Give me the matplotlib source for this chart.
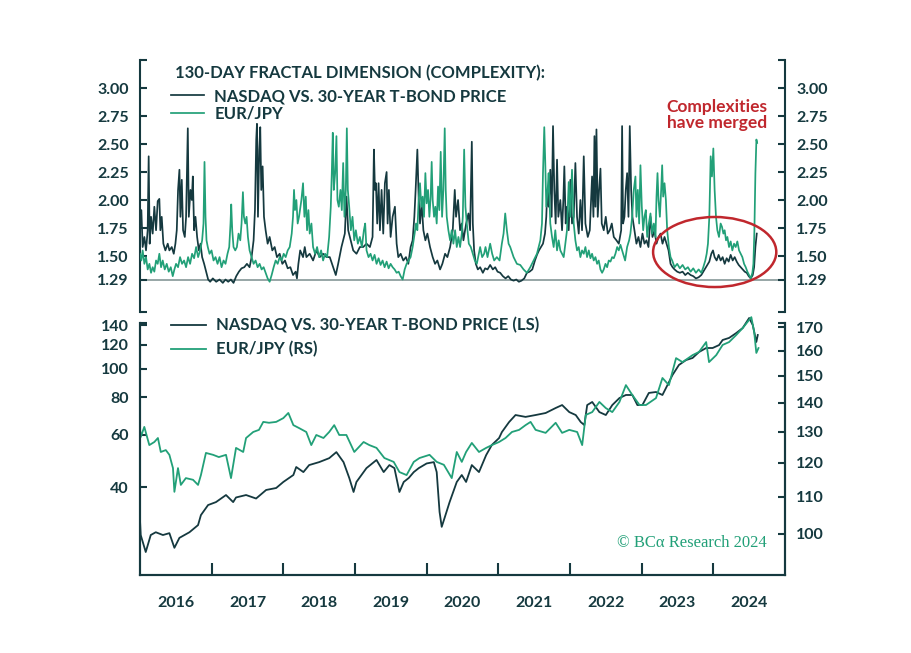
import numpy as np
import matplotlib.pyplot as plt
from matplotlib.patches import Ellipse
from matplotlib.ticker import FixedLocator, NullLocator

DARK = '#15393f'
GREEN = '#22a078'
RED = '#c0272d'
GREY = '#8f9f9f'

plt.rcParams['font.family'] = ['Lato', 'DejaVu Sans']

# ---- top panel: 130-day fractal dimension (decimal years, value)
cx_nq_t = [2016.000, 2016.019, 2016.037, 2016.061, 2016.084, 2016.107, 2016.121, 2016.135, 2016.154, 2016.177,
           2016.200, 2016.224, 2016.247, 2016.270, 2016.284, 2016.303, 2016.326, 2016.354, 2016.387, 2016.410,
           2016.443, 2016.471, 2016.494, 2016.513, 2016.531, 2016.550, 2016.564, 2016.583, 2016.601, 2016.625,
           2016.643, 2016.667, 2016.681, 2016.704, 2016.723, 2016.737, 2016.755, 2016.774, 2016.797, 2016.821,
           2016.844, 2016.867, 2016.895, 2016.923, 2016.951, 2016.979, 2017.016, 2017.063, 2017.110, 2017.156,
           2017.193, 2017.231, 2017.268, 2017.305, 2017.343, 2017.380, 2017.417, 2017.455, 2017.492, 2017.529,
           2017.557, 2017.585, 2017.604, 2017.622, 2017.632, 2017.646, 2017.664, 2017.678, 2017.692, 2017.711,
           2017.730, 2017.753, 2017.781, 2017.809, 2017.846, 2017.879, 2017.911, 2017.949, 2017.986, 2018.023,
           2018.061, 2018.098, 2018.135, 2018.172, 2018.190, 2018.210, 2018.235, 2018.275, 2018.299, 2018.322,
           2018.368, 2018.415, 2018.462, 2018.508, 2018.555, 2018.602, 2018.648, 2018.695, 2018.732, 2018.765,
           2018.811, 2018.858, 2018.881, 2018.905, 2018.928, 2018.975, 2019.021, 2019.068, 2019.114, 2019.161,
           2019.208, 2019.245, 2019.264, 2019.278, 2019.292, 2019.310, 2019.329, 2019.348, 2019.371, 2019.394,
           2019.417, 2019.441, 2019.455, 2019.473, 2019.497, 2019.525, 2019.557, 2019.581, 2019.604, 2019.637,
           2019.674, 2019.711, 2019.744, 2019.776, 2019.804, 2019.828, 2019.846, 2019.870, 2019.888, 2019.907,
           2019.930, 2019.954, 2019.982, 2020.010, 2020.047, 2020.084, 2020.117, 2020.149, 2020.187, 2020.219,
           2020.257, 2020.289, 2020.327, 2020.364, 2020.392, 2020.410, 2020.438, 2020.466, 2020.490, 2020.513,
           2020.551, 2020.583, 2020.606, 2020.630, 2020.644, 2020.662, 2020.686, 2020.714, 2020.746, 2020.784,
           2020.816, 2020.849, 2020.886, 2020.923, 2020.956, 2020.989, 2021.026, 2021.063, 2021.101, 2021.138,
           2021.175, 2021.213, 2021.250, 2021.287, 2021.324, 2021.362, 2021.399, 2021.436, 2021.474, 2021.511,
           2021.539, 2021.567, 2021.595, 2021.623, 2021.651, 2021.669, 2021.683, 2021.702, 2021.725, 2021.744,
           2021.763, 2021.781, 2021.800, 2021.819, 2021.837, 2021.865, 2021.889, 2021.907, 2021.921, 2021.940,
           2021.958, 2021.982, 2022.005, 2022.028, 2022.052, 2022.075, 2022.098, 2022.122, 2022.145, 2022.168,
           2022.192, 2022.215, 2022.248, 2022.276, 2022.308, 2022.327, 2022.341, 2022.355, 2022.369, 2022.387,
           2022.406, 2022.425, 2022.443, 2022.471, 2022.499, 2022.527, 2022.555, 2022.583, 2022.611, 2022.648,
           2022.681, 2022.714, 2022.727, 2022.741, 2022.760, 2022.778, 2022.797, 2022.816, 2022.834, 2022.853,
           2022.871, 2022.899, 2022.927, 2022.955, 2022.983, 2023.011, 2023.039, 2023.067, 2023.095, 2023.123,
           2023.151, 2023.179, 2023.207, 2023.235, 2023.263, 2023.291, 2023.319, 2023.347, 2023.375, 2023.403,
           2023.431, 2023.459, 2023.496, 2023.533, 2023.571, 2023.608, 2023.645, 2023.683, 2023.720, 2023.757,
           2023.795, 2023.832, 2023.860, 2023.888, 2023.916, 2023.944, 2023.972, 2023.995, 2024.018, 2024.046,
           2024.074, 2024.102, 2024.130, 2024.158, 2024.186, 2024.214, 2024.242, 2024.270, 2024.298, 2024.326,
           2024.354, 2024.382, 2024.410, 2024.438, 2024.466, 2024.494, 2024.522, 2024.550, 2024.569, 2024.587,
           2024.606]
cx_nq_v = [1.79, 1.91, 1.58, 1.67, 1.55, 1.73, 2.39, 1.61, 1.85, 1.70,
           1.94, 1.73, 1.99, 2.01, 1.73, 1.85, 1.61, 1.55, 1.61, 1.55,
           1.58, 1.52, 1.61, 1.73, 2.09, 2.27, 1.85, 2.18, 1.73, 1.67,
           1.85, 2.64, 1.85, 2.09, 2.00, 2.21, 1.73, 1.85, 1.67, 1.55,
           1.61, 1.49, 1.43, 1.36, 1.29, 1.27, 1.30, 1.27, 1.29, 1.26,
           1.29, 1.27, 1.29, 1.26, 1.32, 1.36, 1.39, 1.40, 1.43, 1.40,
           1.49, 1.64, 1.91, 2.54, 2.68, 1.85, 2.45, 2.65, 2.09, 2.30,
           1.85, 1.73, 1.61, 1.67, 1.55, 1.58, 1.49, 1.52, 1.43, 1.46,
           1.39, 1.40, 1.33, 1.36, 1.30, 1.43, 1.55, 1.49, 1.58, 1.49,
           1.52, 1.46, 1.55, 1.49, 1.52, 1.49, 1.49, 1.40, 1.33, 1.43,
           1.58, 1.70, 2.03, 1.73, 1.67, 1.55, 1.52, 1.58, 1.58, 1.61,
           1.58, 1.67, 2.45, 2.09, 2.15, 1.79, 2.15, 1.73, 2.09, 1.70,
           2.15, 2.25, 1.79, 2.09, 1.67, 1.85, 1.94, 1.61, 1.49, 1.52,
           1.46, 1.49, 1.43, 1.58, 1.64, 1.85, 2.09, 2.45, 2.03, 1.79,
           1.97, 1.73, 1.64, 1.70, 1.58, 1.49, 1.43, 1.46, 1.38, 1.43,
           1.52, 1.49, 1.58, 1.73, 2.09, 1.85, 2.00, 1.73, 1.79, 1.64,
           1.79, 1.88, 1.73, 2.52, 1.79, 1.55, 1.43, 1.38, 1.40, 1.35,
           1.39, 1.38, 1.42, 1.38, 1.40, 1.36, 1.35, 1.32, 1.30, 1.32,
           1.29, 1.28, 1.29, 1.27, 1.28, 1.30, 1.35, 1.36, 1.38, 1.46,
           1.51, 1.55, 1.58, 1.61, 1.70, 1.85, 2.09, 1.94, 2.27, 1.85,
           2.66, 2.09, 1.79, 2.36, 1.85, 2.00, 1.73, 2.00, 2.30, 1.79,
           1.94, 1.73, 2.18, 1.79, 1.85, 2.33, 1.85, 1.70, 2.00, 1.73,
           2.39, 1.79, 1.67, 1.73, 2.21, 1.85, 2.57, 1.94, 2.63, 1.85,
           2.09, 2.28, 1.79, 1.73, 1.85, 1.70, 1.73, 1.79, 1.67, 1.64,
           1.61, 1.73, 2.66, 1.79, 1.85, 2.09, 2.24, 1.85, 2.66, 2.09,
           1.85, 1.73, 1.61, 1.67, 1.58, 1.70, 1.61, 1.64, 1.58, 1.85,
           1.67, 1.73, 1.61, 1.67, 1.70, 1.61, 1.67, 1.61, 1.55, 1.43,
           1.40, 1.38, 1.36, 1.35, 1.36, 1.33, 1.35, 1.33, 1.32, 1.30,
           1.31, 1.33, 1.36, 1.39, 1.42, 1.45, 1.52, 1.55, 1.49, 1.46,
           1.51, 1.46, 1.49, 1.43, 1.48, 1.45, 1.51, 1.46, 1.49, 1.45,
           1.42, 1.40, 1.38, 1.36, 1.35, 1.32, 1.30, 1.33, 1.40, 1.58,
           1.70]

cx_ej_t = [2016.000, 2016.019, 2016.037, 2016.061, 2016.084, 2016.107, 2016.131, 2016.154, 2016.177, 2016.200,
           2016.224, 2016.247, 2016.270, 2016.294, 2016.317, 2016.345, 2016.373, 2016.401, 2016.429, 2016.457,
           2016.480, 2016.503, 2016.531, 2016.559, 2016.587, 2016.615, 2016.643, 2016.671, 2016.699, 2016.727,
           2016.755, 2016.783, 2016.811, 2016.839, 2016.867, 2016.886, 2016.900, 2016.914, 2016.928, 2016.946,
           2016.970, 2016.998, 2017.026, 2017.054, 2017.082, 2017.110, 2017.138, 2017.166, 2017.193, 2017.221,
           2017.245, 2017.263, 2017.273, 2017.287, 2017.305, 2017.329, 2017.352, 2017.375, 2017.399, 2017.417,
           2017.436, 2017.450, 2017.469, 2017.487, 2017.506, 2017.529, 2017.557, 2017.585, 2017.613, 2017.641,
           2017.669, 2017.697, 2017.725, 2017.753, 2017.781, 2017.809, 2017.837, 2017.865, 2017.893, 2017.921,
           2017.949, 2017.977, 2018.005, 2018.033, 2018.061, 2018.089, 2018.117, 2018.135, 2018.149, 2018.163,
           2018.182, 2018.200, 2018.219, 2018.238, 2018.252, 2018.275, 2018.294, 2018.313, 2018.331, 2018.350,
           2018.368, 2018.392, 2018.415, 2018.443, 2018.471, 2018.499, 2018.527, 2018.555, 2018.583, 2018.611,
           2018.639, 2018.662, 2018.676, 2018.690, 2018.704, 2018.723, 2018.741, 2018.755, 2018.774, 2018.797,
           2018.816, 2018.835, 2018.853, 2018.872, 2018.886, 2018.900, 2018.919, 2018.942, 2018.965, 2018.989,
           2019.012, 2019.040, 2019.068, 2019.096, 2019.124, 2019.142, 2019.161, 2019.189, 2019.217, 2019.245,
           2019.273, 2019.301, 2019.329, 2019.357, 2019.385, 2019.413, 2019.441, 2019.469, 2019.497, 2019.525,
           2019.553, 2019.581, 2019.609, 2019.637, 2019.665, 2019.693, 2019.720, 2019.748, 2019.776, 2019.804,
           2019.832, 2019.851, 2019.870, 2019.888, 2019.907, 2019.926, 2019.944, 2019.963, 2019.982, 2020.000,
           2020.019, 2020.038, 2020.056, 2020.070, 2020.084, 2020.103, 2020.121, 2020.140, 2020.159, 2020.177,
           2020.196, 2020.215, 2020.233, 2020.252, 2020.266, 2020.280, 2020.303, 2020.327, 2020.350, 2020.373,
           2020.397, 2020.420, 2020.443, 2020.466, 2020.490, 2020.504, 2020.523, 2020.541, 2020.560, 2020.588,
           2020.616, 2020.644, 2020.672, 2020.700, 2020.728, 2020.746, 2020.774, 2020.802, 2020.821, 2020.849,
           2020.886, 2020.914, 2020.942, 2020.979, 2021.017, 2021.049, 2021.073, 2021.096, 2021.119, 2021.143,
           2021.166, 2021.213, 2021.259, 2021.306, 2021.352, 2021.399, 2021.446, 2021.492, 2021.539, 2021.586,
           2021.609, 2021.623, 2021.641, 2021.655, 2021.669, 2021.688, 2021.702, 2021.725, 2021.749, 2021.772,
           2021.795, 2021.819, 2021.842, 2021.865, 2021.889, 2021.912, 2021.935, 2021.958, 2021.982, 2022.005,
           2022.028, 2022.052, 2022.075, 2022.098, 2022.122, 2022.145, 2022.168, 2022.192, 2022.215, 2022.238,
           2022.262, 2022.285, 2022.308, 2022.331, 2022.355, 2022.378, 2022.401, 2022.425, 2022.448, 2022.471,
           2022.495, 2022.518, 2022.541, 2022.565, 2022.588, 2022.611, 2022.634, 2022.658, 2022.681, 2022.704,
           2022.728, 2022.741, 2022.769, 2022.797, 2022.825, 2022.843, 2022.867, 2022.890, 2022.913, 2022.927,
           2022.946, 2022.965, 2022.983, 2023.002, 2023.021, 2023.039, 2023.058, 2023.077, 2023.100, 2023.123,
           2023.147, 2023.170, 2023.193, 2023.207, 2023.221, 2023.235, 2023.254, 2023.272, 2023.286, 2023.300,
           2023.319, 2023.338, 2023.356, 2023.380, 2023.403, 2023.426, 2023.459, 2023.496, 2023.533, 2023.571,
           2023.608, 2023.645, 2023.683, 2023.720, 2023.757, 2023.795, 2023.832, 2023.860, 2023.888, 2023.907,
           2023.925, 2023.944, 2023.963, 2023.981, 2024.000, 2024.018, 2024.037, 2024.056, 2024.079, 2024.102,
           2024.121, 2024.140, 2024.158, 2024.177, 2024.196, 2024.219, 2024.242, 2024.265, 2024.289, 2024.312,
           2024.335, 2024.359, 2024.382, 2024.405, 2024.429, 2024.452, 2024.475, 2024.498, 2024.522, 2024.545,
           2024.559, 2024.573, 2024.587, 2024.601, 2024.611]
cx_ej_v = [1.52, 1.46, 1.55, 1.43, 1.49, 1.38, 1.43, 1.35, 1.40, 1.36,
           1.46, 1.43, 1.52, 1.40, 1.46, 1.38, 1.43, 1.36, 1.40, 1.32,
           1.38, 1.43, 1.40, 1.49, 1.43, 1.46, 1.40, 1.49, 1.43, 1.52,
           1.48, 1.58, 1.49, 1.55, 1.64, 1.79, 2.34, 1.85, 1.64, 1.58,
           1.52, 1.55, 1.46, 1.49, 1.43, 1.49, 1.40, 1.46, 1.43, 1.52,
           1.58, 1.79, 1.96, 1.73, 1.58, 1.55, 1.58, 1.70, 1.64, 1.79,
           2.07, 1.85, 1.79, 1.85, 1.67, 1.55, 1.49, 1.43, 1.46, 1.40,
           1.43, 1.38, 1.40, 1.35, 1.30, 1.27, 1.33, 1.40, 1.46, 1.43,
           1.49, 1.46, 1.52, 1.49, 1.55, 1.58, 1.70, 1.85, 2.09, 1.91,
           2.00, 1.79, 1.85, 1.94, 2.00, 2.15, 1.85, 2.03, 1.73, 1.91,
           1.70, 1.79, 1.58, 1.52, 1.58, 1.49, 1.55, 1.46, 1.52, 1.49,
           1.67, 1.94, 2.24, 2.60, 2.09, 2.24, 2.57, 2.00, 1.94, 2.09,
           1.91, 2.33, 1.85, 2.09, 2.64, 2.09, 1.94, 1.73, 1.85, 1.64,
           1.73, 1.61, 1.67, 1.58, 1.73, 1.79, 1.55, 1.49, 1.52, 1.46,
           1.51, 1.43, 1.48, 1.42, 1.46, 1.40, 1.45, 1.39, 1.43, 1.40,
           1.38, 1.35, 1.36, 1.32, 1.29, 1.38, 1.43, 1.46, 1.49, 1.58,
           1.70, 1.79, 1.73, 2.00, 2.15, 1.94, 2.03, 1.85, 2.24, 1.97,
           2.09, 1.85, 2.03, 2.34, 2.00, 1.85, 1.94, 1.79, 2.12, 1.91,
           2.43, 1.85, 2.09, 2.64, 2.09, 1.85, 1.73, 1.64, 1.73, 1.61,
           1.73, 1.58, 1.67, 1.58, 1.70, 1.85, 2.45, 1.94, 1.79, 1.61,
           1.58, 1.52, 1.46, 1.43, 1.52, 1.58, 1.49, 1.52, 1.58, 1.49,
           1.61, 1.52, 1.46, 1.49, 1.46, 1.61, 1.70, 1.88, 1.73, 1.61,
           1.58, 1.49, 1.43, 1.42, 1.38, 1.35, 1.40, 1.46, 1.52, 1.64,
           1.79, 2.24, 2.65, 2.33, 1.94, 2.09, 2.24, 1.79, 1.67, 1.58,
           1.73, 1.55, 1.64, 1.55, 1.52, 1.49, 1.61, 1.73, 2.16, 1.85,
           2.27, 1.79, 1.64, 1.55, 1.58, 1.49, 1.55, 1.52, 1.58, 1.49,
           1.55, 1.48, 1.52, 1.46, 1.49, 1.43, 1.46, 1.38, 1.35, 1.38,
           1.43, 1.40, 1.46, 1.45, 1.49, 1.48, 1.52, 1.58, 1.55, 1.60,
           1.55, 1.52, 1.46, 1.58, 1.64, 1.70, 1.85, 2.09, 2.21, 1.85,
           2.09, 1.79, 2.31, 1.94, 1.73, 1.85, 1.91, 1.67, 1.79, 1.88,
           1.70, 1.79, 1.67, 2.03, 2.24, 2.00, 1.85, 2.09, 2.31, 2.03,
           2.15, 2.00, 1.73, 1.58, 1.49, 1.46, 1.40, 1.43, 1.39, 1.42,
           1.38, 1.40, 1.36, 1.39, 1.35, 1.38, 1.35, 1.40, 1.46, 1.52,
           1.61, 1.85, 2.39, 2.21, 2.46, 2.09, 1.85, 1.73, 1.67, 1.79,
           1.76, 1.70, 1.73, 1.64, 1.67, 1.58, 1.63, 1.55, 1.61, 1.58,
           1.63, 1.55, 1.52, 1.49, 1.43, 1.40, 1.36, 1.33, 1.30, 1.35,
           1.43, 1.73, 2.24, 2.54, 2.51]

# ---- bottom panel: prices (decimal years, level)
px_nq_t = [2016.00, 2016.01, 2016.08, 2016.15, 2016.22, 2016.32, 2016.41, 2016.48, 2016.55, 2016.69,
           2016.81, 2016.85, 2016.95, 2017.06, 2017.20, 2017.30, 2017.34, 2017.48, 2017.62, 2017.76,
           2017.90, 2018.00, 2018.14, 2018.18, 2018.28, 2018.36, 2018.50, 2018.64, 2018.74, 2018.84,
           2018.92, 2018.98, 2019.02, 2019.16, 2019.30, 2019.40, 2019.48, 2019.55, 2019.62, 2019.68,
           2019.75, 2019.82, 2019.89, 2020.00, 2020.10, 2020.14, 2020.18, 2020.21, 2020.25, 2020.32,
           2020.42, 2020.49, 2020.55, 2020.63, 2020.73, 2020.83, 2020.91, 2021.01, 2021.05, 2021.15,
           2021.24, 2021.38, 2021.52, 2021.66, 2021.80, 2021.89, 2021.99, 2022.08, 2022.15, 2022.20,
           2022.24, 2022.31, 2022.41, 2022.50, 2022.59, 2022.69, 2022.78, 2022.87, 2022.94, 2023.01,
           2023.10, 2023.20, 2023.29, 2023.36, 2023.43, 2023.52, 2023.62, 2023.71, 2023.80, 2023.90,
           2023.99, 2024.08, 2024.13, 2024.22, 2024.32, 2024.41, 2024.50, 2024.55, 2024.60, 2024.62]
px_nq_v = [31.0, 27.6, 24.2, 27.6, 28.2, 27.6, 28.0, 25.0, 27.0, 28.2,
           29.8, 32.2, 34.8, 35.6, 37.6, 35.6, 36.9, 37.6, 36.6, 39.1,
           39.7, 41.6, 43.9, 46.7, 44.9, 47.4, 48.5, 50.0, 52.4, 48.5,
           42.9, 38.5, 41.6, 46.3, 49.3, 44.9, 47.4, 46.3, 38.5, 41.6,
           42.9, 44.9, 46.3, 48.0, 48.5, 44.9, 33.0, 29.4, 31.5, 35.6,
           41.6, 43.9, 41.6, 47.4, 44.9, 51.2, 55.4, 58.4, 61.2, 66.1,
           69.8, 68.8, 69.8, 70.9, 73.7, 75.4, 71.4, 69.8, 66.1, 64.6,
           75.4, 77.2, 71.4, 69.8, 75.4, 79.6, 81.5, 81.5, 75.4, 75.4,
           82.8, 83.4, 81.5, 88.0, 95.1, 102.8, 106.8, 108.5, 113.6, 117.2,
           117.2, 119.9, 124.7, 126.7, 131.6, 136.8, 147.8, 140.0, 122.8, 129.6]

px_ej_t = [2016.00, 2016.01, 2016.06, 2016.13, 2016.20, 2016.25, 2016.29, 2016.36, 2016.41, 2016.46,
           2016.48, 2016.53, 2016.57, 2016.64, 2016.74, 2016.81, 2016.85, 2016.92, 2017.02, 2017.10,
           2017.20, 2017.27, 2017.34, 2017.44, 2017.48, 2017.58, 2017.66, 2017.72, 2017.80, 2017.90,
           2018.00, 2018.07, 2018.14, 2018.22, 2018.32, 2018.39, 2018.46, 2018.56, 2018.64, 2018.71,
           2018.78, 2018.88, 2018.99, 2019.12, 2019.20, 2019.30, 2019.41, 2019.54, 2019.62, 2019.72,
           2019.82, 2019.90, 2020.04, 2020.14, 2020.24, 2020.35, 2020.42, 2020.49, 2020.55, 2020.63,
           2020.73, 2020.83, 2020.91, 2021.01, 2021.10, 2021.19, 2021.29, 2021.38, 2021.45, 2021.52,
           2021.66, 2021.80, 2021.89, 2021.99, 2022.10, 2022.17, 2022.22, 2022.31, 2022.41, 2022.50,
           2022.59, 2022.69, 2022.78, 2022.87, 2022.97, 2023.06, 2023.20, 2023.29, 2023.38, 2023.48,
           2023.57, 2023.71, 2023.80, 2023.90, 2023.94, 2024.04, 2024.13, 2024.22, 2024.32, 2024.41,
           2024.53, 2024.57, 2024.60, 2024.63]
px_ej_v = [131.2, 128.2, 131.6, 125.6, 126.6, 127.9, 123.4, 124.0, 122.5, 118.4,
           111.4, 118.4, 113.4, 115.4, 114.9, 113.4, 116.3, 123.1, 122.5, 121.8,
           122.5, 115.4, 124.7, 123.4, 127.9, 129.9, 130.6, 133.3, 133.0, 133.3,
           134.6, 136.4, 132.2, 131.2, 129.9, 125.6, 128.9, 127.9, 129.9, 132.2,
           128.9, 128.9, 123.4, 126.6, 125.6, 124.7, 121.5, 120.3, 117.2, 116.3,
           120.3, 121.5, 122.5, 120.3, 119.4, 115.4, 123.4, 120.3, 123.4, 126.3,
           123.4, 124.7, 125.6, 126.6, 127.9, 129.9, 130.6, 132.2, 133.3, 130.6,
           129.6, 133.0, 129.6, 130.6, 129.9, 125.6, 135.7, 136.7, 140.3, 138.1,
           136.7, 140.3, 146.5, 142.8, 139.2, 139.2, 141.7, 149.2, 146.5, 157.0,
           155.4, 158.2, 159.5, 163.6, 155.4, 158.2, 162.4, 163.6, 166.6, 169.6,
           174.4, 167.9, 159.1, 161.1]

top_ticks = [1.0, 1.29, 1.50, 1.75, 2.00, 2.25, 2.50, 2.75, 3.00, 3.25]
top_labels = ['', '1.29', '1.50', '1.75', '2.00', '2.25', '2.50', '2.75', '3.00', '']
ls_ticks = [40, 60, 80, 100, 120, 140]
rs_ticks = [100, 110, 120, 130, 140, 150, 160, 170]
years = list(range(2016, 2025))

W, H = 911, 653
fig = plt.figure(figsize=(W / 100, H / 100), dpi=100)
ax1 = fig.add_axes([140 / W, 1 - 312 / H, 645 / W, 252 / H])
ax2 = fig.add_axes([140 / W, 1 - 575 / H, 645 / W, 252 / H])

# top panel
ax1.axhline(1.29, color=GREY, lw=1.3, zorder=1)
ax1.plot(cx_nq_t, cx_nq_v, color=DARK, lw=1.25, label='NASDAQ VS. 30-YEAR T-BOND PRICE', zorder=2)
ax1.plot(cx_ej_t, cx_ej_v, color=GREEN, lw=1.25, label='EUR/JPY', zorder=3)
ax1.set_xlim(2016, 2025)
ax1.set_ylim(1.0, 3.25)
ax1.set_yticks(top_ticks)
ax1.set_yticklabels(top_labels)
ax1.set_xticks([])
ax1.spines['top'].set_visible(False)
ax1.spines['bottom'].set_visible(False)
ax1.tick_params(axis='y', direction='in', length=5, width=1.5, color=DARK, labelcolor=DARK,
                labelsize=11.5, right=True, labelright=True, pad=8)

ax1.text(0.054, 0.948, '130-DAY FRACTAL DIMENSION (COMPLEXITY):', transform=ax1.transAxes,
         ha='left', va='center', color=DARK, fontsize=12, fontweight='bold')
leg1 = ax1.legend(loc='upper left', bbox_to_anchor=(0.048, 0.888), frameon=False, handlelength=2.0,
                  handletextpad=0.6, labelspacing=0.1, borderaxespad=0, borderpad=0,
                  prop=dict(size=12, weight='bold'), labelcolor=DARK)

ax1.text(0.895, 0.78, 'Complexities\nhave merged', transform=ax1.transAxes, ha='center', va='center',
         color=RED, fontsize=12.5, fontweight='bold', linespacing=1.0)
ax1.add_patch(Ellipse((0.891, 0.238), 0.191, 0.278, transform=ax1.transAxes, fill=False,
                      edgecolor=RED, lw=1.8, clip_on=False, zorder=5))

# bottom panel
l1, = ax2.plot(px_nq_t, px_nq_v, color=DARK, lw=1.3, clip_on=False,
               label='NASDAQ VS. 30-YEAR T-BOND PRICE (LS)')
ax2.set_yscale('log')
ax2.set_xlim(2016, 2025)
ax2.set_ylim(20.26, 142.2)
ax2.yaxis.set_major_locator(FixedLocator(ls_ticks + [142.2]))
ax2.yaxis.set_minor_locator(NullLocator())
ax2.set_yticklabels([str(t) for t in ls_ticks] + [''])

ax2r = ax2.twinx()
l2, = ax2r.plot(px_ej_t, px_ej_v, color=GREEN, lw=1.3, clip_on=False, label='EUR/JPY (RS)')
ax2r.set_yscale('log')
ax2r.set_ylim(90.0, 171.8)
ax2r.yaxis.set_major_locator(FixedLocator(rs_ticks + [171.8]))
ax2r.yaxis.set_minor_locator(NullLocator())
ax2r.set_yticklabels([str(t) for t in rs_ticks] + [''])

ax2.set_xticks(years[1:])
ax2.set_xticklabels([])
ax2.set_xticks([y + 0.5 for y in years], minor=True)
ax2.set_xticklabels([str(y) for y in years], minor=True)
ax2.tick_params(axis='x', which='major', direction='in', length=9, width=1.5, color=DARK)
ax2.tick_params(axis='x', which='minor', length=0, pad=15, labelsize=11.5, labelcolor=DARK)
ax2.tick_params(axis='y', direction='in', length=5, width=1.5, color=DARK, labelcolor=DARK,
                labelsize=11.5, pad=8)
ax2r.tick_params(axis='y', direction='in', length=5, width=1.5, color=DARK, labelcolor=DARK,
                 labelsize=11.5, pad=8)
for a in (ax2, ax2r):
    a.spines['top'].set_visible(False)

for a in (ax1, ax2, ax2r):
    for s in a.spines.values():
        s.set_color(DARK)
        s.set_linewidth(1.5)
    for lab in a.get_yticklabels() + a.get_xticklabels(which='both'):
        lab.set_fontweight('bold')

leg2 = ax2r.legend(handles=[l1, l2], loc='upper left', bbox_to_anchor=(0.048, 1.022), frameon=False,
                   handlelength=2.1, handletextpad=0.6, labelspacing=0.45, borderaxespad=0,
                   borderpad=0, prop=dict(size=12, weight='bold'), labelcolor=DARK)

ax2.text(0.972, 0.127, '\u00a9 BC\u03b1 Research 2024', transform=ax2.transAxes, ha='right',
         va='center', color=GREEN, fontsize=12, family=['Liberation Serif', 'DejaVu Serif'])

fig.savefig('out.png', dpi=100)
